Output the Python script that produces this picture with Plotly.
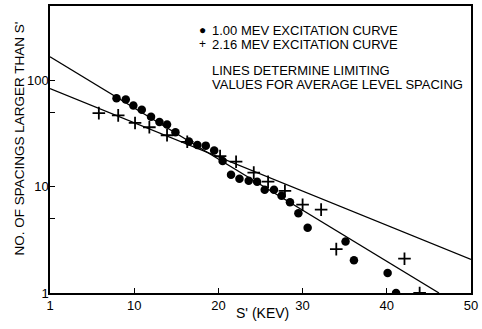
import plotly.graph_objects as go

# 1.00 MeV excitation curve (dots)
dots_x = [7.9, 9.0, 9.9, 10.9, 12.0, 13.0, 13.9, 14.9, 16.5, 17.5, 18.5, 19.5,
          20.5, 21.5, 22.5, 23.6, 24.6, 25.5, 26.6, 27.5, 28.5, 29.5, 30.6,
          35.1, 36.1, 40.1, 41.1]
dots_y = [67.5, 65.6, 57.7, 52.6, 45.3, 40.3, 38.2, 32.4, 26.4, 24.5, 24.2, 21.8,
          17.4, 12.9, 11.8, 11.3, 11.1, 9.3, 9.3, 8.2, 7.1, 5.6, 4.1,
          3.05, 2.03, 1.54, 1.0]

# 2.16 MeV excitation curve (crosses)
plus_x = [5.8, 8.1, 10.1, 11.8, 13.9, 16.3, 20.2, 22.1, 24.2, 25.9, 27.9, 30.0,
          32.2, 34.0, 42.1, 43.9]
plus_y = [48.9, 46.6, 39.5, 36.0, 30.3, 26.3, 19.3, 17.1, 13.5, 11.1, 9.1, 6.75,
          6.07, 2.58, 2.1, 1.0]

# limiting lines
line1_x = [0, 46.2]
line1_y = [165, 1.0]
line2_x = [0, 50]
line2_y = [83, 2.07]

x_tickvals = [0, 10, 20, 30, 40, 50]
x_ticktext = ["1", "10", "20", "30", "40", "50"]
y_tickvals = [1, 5, 10, 50, 100]
y_ticktext = ["1", "", "10", "", "100"]

FONT = "Liberation Sans, Arial, sans-serif"

fig = go.Figure()
fig.add_trace(go.Scatter(x=line1_x, y=line1_y, mode="lines",
                         line=dict(color="black", width=1.3), showlegend=False))
fig.add_trace(go.Scatter(x=line2_x, y=line2_y, mode="lines",
                         line=dict(color="black", width=1.3), showlegend=False))
fig.add_trace(go.Scatter(x=dots_x, y=dots_y, mode="markers",
                         marker=dict(symbol="circle", size=8.5, color="black"),
                         showlegend=False))
fig.add_trace(go.Scatter(x=plus_x, y=plus_y, mode="markers",
                         marker=dict(symbol="cross-thin", size=9,
                                     line=dict(color="black", width=1.8)),
                         showlegend=False))

fig.update_layout(
    width=482, height=329,
    margin=dict(l=50, r=6, t=4, b=36),
    paper_bgcolor="white", plot_bgcolor="white",
    font=dict(family=FONT, size=13, color="black"),
    xaxis=dict(range=[0, 50], tickvals=x_tickvals, ticktext=x_ticktext,
               ticks="inside", ticklen=5, tickwidth=1.2, tickcolor="black",
               showline=True, linecolor="black", linewidth=1.5, mirror=True,
               showgrid=False, zeroline=False, ticklabeloverflow="allow",
               tickfont=dict(size=13, family=FONT)),
    yaxis=dict(type="log", range=[0, 2.695], tickvals=y_tickvals, ticktext=y_ticktext,
               ticks="inside", ticklen=5, tickwidth=1.2, tickcolor="black",
               showline=True, linecolor="black", linewidth=1.5, mirror=True,
               showgrid=False, zeroline=False, ticklabelstandoff=-3,
               tickfont=dict(size=13, family=FONT)),
)

fig.add_annotation(text="NO. OF SPACINGS LARGER THAN S'", textangle=-90,
                   xref="paper", yref="paper", x=0, y=0.5, xanchor="center",
                   yanchor="middle", xshift=-31, yshift=11, showarrow=False,
                   font=dict(size=13.5, family=FONT))
fig.add_annotation(text="S' (KEV)", xref="paper", yref="paper", x=0.505, y=0,
                   xanchor="center", yanchor="middle", yshift=-20, showarrow=False,
                   font=dict(size=14, family=FONT))

SYM_X = (204.5 - 50) / 426
TXT_X = (212 - 50) / 426
legend_lines = [
    ("\u25CF", "1.00 MEV EXCITATION CURVE", 28),
    ("+", "2.16 MEV EXCITATION CURVE", 42),
]
for sym, txt, ypx in legend_lines:
    fig.add_annotation(text=sym, xref="paper", yref="paper",
                       x=SYM_X, y=1, xanchor="center", yanchor="middle",
                       yshift=-(ypx - 4), showarrow=False,
                       font=dict(size=12, family=FONT))
    fig.add_annotation(text=txt, xref="paper", yref="paper",
                       x=TXT_X, y=1, xanchor="left", yanchor="middle",
                       yshift=-(ypx - 4), showarrow=False,
                       font=dict(size=13, family=FONT))

for txt, ypx in [("LINES DETERMINE LIMITING", 68),
                 ("VALUES FOR AVERAGE LEVEL SPACING", 82)]:
    fig.add_annotation(text=txt, xref="paper", yref="paper",
                       x=TXT_X, y=1, xanchor="left", yanchor="middle",
                       yshift=-(ypx - 4), showarrow=False,
                       font=dict(size=13, family=FONT))

fig.write_html("out.html")
